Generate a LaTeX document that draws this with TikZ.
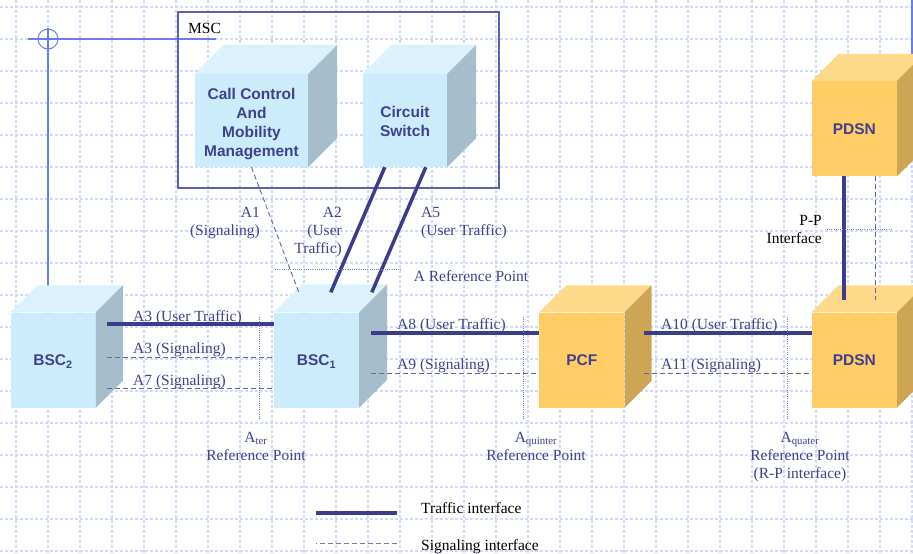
\documentclass[tikz,border=0pt]{standalone}
\usepackage{fontspec}
\setmainfont{Liberation Serif}
\setsansfont{Liberation Sans}
\usetikzlibrary{
    positioning,
    calc
}
\definecolor{linkblue}{RGB}{60,60,140}
\definecolor{textblue}{RGB}{64,64,144}
\definecolor{gridblue}{RGB}{208,218,250}
\definecolor{markblue}{RGB}{105,125,240}
\definecolor{mscframe}{RGB}{95,95,175}
\definecolor{bluefront}{RGB}{204,236,252}
\definecolor{bluetop}{RGB}{219,242,253}
\definecolor{blueside}{RGB}{166,190,204}
\definecolor{orangefront}{RGB}{255,204,102}
\definecolor{orangetop}{RGB}{255,217,138}
\definecolor{orangeside}{RGB}{204,165,85}
\tikzset{
    % --- Cube front face (the named node) ---
    cube/.style = {
        rectangle, inner sep=0pt,
        minimum width=85pt, minimum height=95pt,
        font=\sffamily\bfseries\fontsize{15.5pt}{19pt}\selectfont,
        text=textblue, align=center,
        text height=11.1pt, text depth=0pt
    },
    blue cube/.style = {cube, fill=bluefront},
    orange cube/.style = {cube, fill=orangefront},
    % --- Interface label (blue serif) ---
    link text/.style = {
        font=\fontsize{15.5pt}{18pt}\selectfont,
        text=textblue, inner sep=0pt, align=center,
        text height=10.3pt, text depth=0pt
    },
    % --- Plain black text ---
    plain text/.style = {
        link text, text=black
    },
    % --- Traffic interface (thick) ---
    traffic/.style = {line width=3.5pt, draw=linkblue},
    % --- Signaling interface (dashed) ---
    signaling/.style = {line width=0.9pt, draw=linkblue!80, dash pattern=on 5pt off 3pt},
    % --- Reference point marker ---
    ref line/.style = {line width=0.9pt, draw=linkblue!65, dash pattern=on 1pt off 1.2pt},
    % --- Background grid ---
    grid line/.style = {line width=1.2pt, draw=gridblue, dash pattern=on 3pt off 2pt},
    % --- Slide marker lines ---
    mark line/.style = {line width=1.5pt, draw=markblue}
}
\begin{document}
\begin{tikzpicture}[x=1pt, y=-1pt]
\useasboundingbox (0,0) rectangle (913,554);
\fill[white] (0,0) rectangle (913,554);

% ---------------------------------------------------------
% Background grid and marker
% ---------------------------------------------------------
\foreach \gx in {16,48,...,912} \draw[grid line] (\gx,0) -- (\gx,554);
\foreach \gy in {7,39,...,551} \draw[grid line] (0,\gy) -- (913,\gy);
\draw[mark line] (28,39) -- (216,39);
\draw[mark line] (48,28) -- (48,300);
\draw[markblue, line width=1pt] (48,39) circle [radius=10pt];
\draw[mark line] (912,0) -- (912,60);

% ---------------------------------------------------------
% MSC
% ---------------------------------------------------------
\node[draw=mscframe, line width=1.1pt, minimum width=321pt, minimum height=176pt,
      inner sep=0pt] (msc) at (338.5,100) {};
\node[plain text, anchor=west] (mscLbl) at (188,28) {MSC};
\node[blue cube, minimum width=113pt, minimum height=93pt, text height=72.1pt] (ccmm)
    at (251.5,120.5) {Call Control\\And\\Mobility\\Management};
\node[blue cube, minimum width=84pt, minimum height=93pt, text height=31.5pt] (cs)
    at (405,120.5) {Circuit\\Switch};

% ---------------------------------------------------------
% Access network row
% ---------------------------------------------------------
\node[blue cube] (bsc1) at (316.5,360) {BSC\textsubscript{1}};
\node[blue cube, left=178pt of bsc1] (bsc2) {BSC\textsubscript{2}};
\node[orange cube, right=180pt of bsc1] (pcf) {PCF};
\node[orange cube, right=187pt of pcf] (pdsnB) {PDSN};
\node[orange cube, above=136pt of pdsnB] (pdsnT) {PDSN};

% top and side faces
\foreach \n/\d/\tc/\sc in {ccmm/29/bluetop/blueside, cs/29/bluetop/blueside,
    bsc2/27/bluetop/blueside, bsc1/28/bluetop/blueside,
    pcf/27/orangetop/orangeside, pdsnB/27/orangetop/orangeside,
    pdsnT/27/orangetop/orangeside} {
    \fill[\tc] (\n.north west) -- ++(\d,-\d) -- ($(\n.north east)+(\d,-\d)$)
        -- (\n.north east) -- cycle;
    \fill[\sc] (\n.north east) -- ++(\d,-\d) -- ($(\n.south east)+(\d,-\d)$)
        -- (\n.south east) -- cycle;
}

% ---------------------------------------------------------
% A interface (MSC - BSC1)
% ---------------------------------------------------------
\draw[signaling] (ccmm.south) -- ($(bsc1.north west)+(25,-20)$);
\draw[traffic] ($(cs.south west)+(22,0)$) -- ($(bsc1.north west)+(57,-20)$);
\draw[traffic] ($(cs.south west)+(63,0)$) -- ($(bsc1.north west)+(98,-20)$);
\draw[ref line] (275,269) -- (402,269);
\node[link text, align=right, anchor=east, text height=28.3pt] (a1Lbl) at (260,221.5)
    {A1\\(Signaling)};
\node[link text, align=right, anchor=east, text height=46.3pt] (a2Lbl) at (342,230.5)
    {A2\\(User\\Traffic)};
\node[link text, align=left, anchor=west, text height=28.3pt] (a5Lbl) at (421,221.5)
    {A5\\(User Traffic)};
\node[link text] (aRefLbl) at (471,276) {A Reference Point};

% ---------------------------------------------------------
% BSC2 - BSC1
% ---------------------------------------------------------
\draw[traffic] ($(bsc2.east)+(11,-36)$) -- ($(bsc1.west)+(0,-36)$);
\draw[signaling] ($(bsc2.east)+(11,-3)$) -- ($(bsc1.west)+(0,-3)$);
\draw[signaling] ($(bsc2.east)+(11,28)$) -- ($(bsc1.west)+(0,28)$);
\node[link text, anchor=west] (a3tLbl) at (133,316) {A3 (User Traffic)};
\node[link text, anchor=west] (a3sLbl) at (133,348) {A3 (Signaling)};
\node[link text, anchor=west] (a7Lbl) at (133,380) {A7 (Signaling)};
\draw[ref line] (259,317) -- (259,420);
\node[link text, text height=28.3pt] (aterLbl) at (256,446)
    {A\textsubscript{ter}\\Reference Point};

% ---------------------------------------------------------
% BSC1 - PCF
% ---------------------------------------------------------
\draw[traffic] ($(bsc1.east)+(12,-27)$) -- ($(pcf.west)+(0,-27)$);
\draw[signaling] ($(bsc1.east)+(12,13)$) -- ($(pcf.west)+(0,13)$);
\node[link text, anchor=west] (a8Lbl) at (397,324) {A8 (User Traffic)};
\node[link text, anchor=west] (a9Lbl) at (397,364) {A9 (Signaling)};
\draw[ref line] (523,317) -- (523,420);
\node[link text, text height=28.3pt] (aquinLbl) at (536,446)
    {A\textsubscript{quinter}\\Reference Point};

% ---------------------------------------------------------
% PCF - PDSN
% ---------------------------------------------------------
\draw[traffic] ($(pcf.east)+(19,-27)$) -- ($(pdsnB.west)+(0,-27)$);
\draw[signaling] ($(pcf.east)+(19,13)$) -- ($(pdsnB.west)+(0,13)$);
\node[link text, anchor=west] (a10Lbl) at (661,324) {A10 (User Traffic)};
\node[link text, anchor=west] (a11Lbl) at (661,364) {A11 (Signaling)};
\draw[ref line] (787,317) -- (787,420);
\node[link text, text height=46.3pt] (aquatLbl) at (800,455)
    {A\textsubscript{quater}\\Reference Point\\(R-P interface)};

% ---------------------------------------------------------
% P-P interface (PDSN - PDSN)
% ---------------------------------------------------------
\draw[traffic] ($(pdsnT.south)+(-10.5,0)$) -- ($(pdsnB.north)+(-10.5,-12)$);
\draw[signaling] ($(pdsnT.south)+(21.5,0)$) -- ($(pdsnB.north)+(21.5,-12)$);
\draw[ref line] (827,229) -- (891,229);
\node[plain text, align=right, anchor=east, text height=28.3pt] (ppLbl) at (822,229.5)
    {P-P\\Interface};

% ---------------------------------------------------------
% Legend
% ---------------------------------------------------------
\node[plain text, anchor=west] (trafLbl) at (421,508) {Traffic interface};
\node[plain text, anchor=west] (sigLbl) at (421,545) {Signaling interface};
\draw[traffic] ($(trafLbl.west)+(-24,5)$) -- ++(-81,0);
\draw[signaling, draw=linkblue!70] ($(sigLbl.west)+(-24,-2)$) -- ++(-81,0);

\end{tikzpicture}
\end{document}
